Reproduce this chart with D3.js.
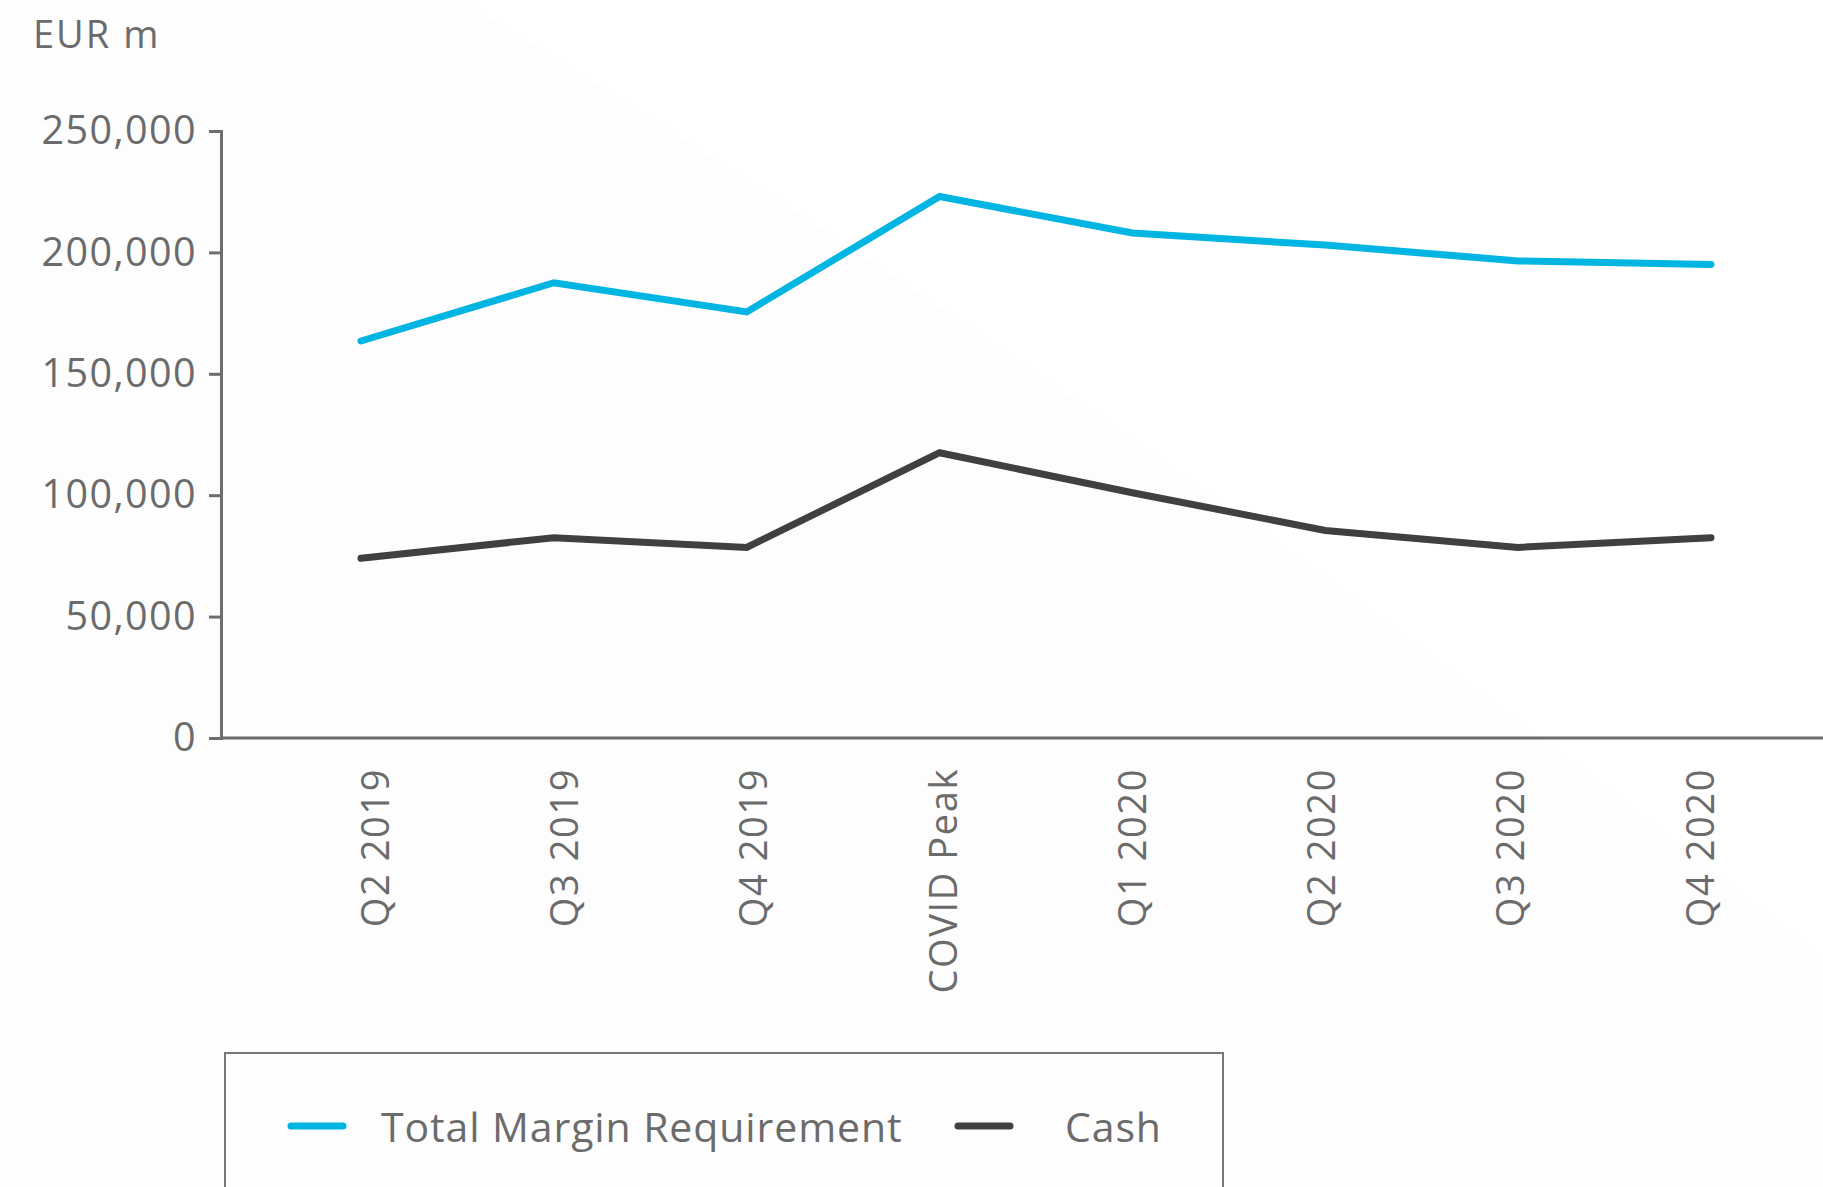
<!DOCTYPE html>
<html>
<head>
<meta charset="utf-8">
<script src="https://cdn.jsdelivr.net/npm/d3@7"></script>
<style>
  body { margin: 0; background: #fff; }
  svg { display: block; font-family: "Open Sans", sans-serif; }
</style>
</head>
<body>
<div id="chart"></div>
<script>
// data (EUR m)
const categories = ["Q2 2019", "Q3 2019", "Q4 2019", "COVID Peak", "Q1 2020", "Q2 2020", "Q3 2020", "Q4 2020"]
const totalMargin = [163500, 187500, 175500, 223000, 208000, 203000, 196500, 195000]
const cash = [74000, 82500, 78500, 117500, 101000, 85500, 78500, 82500]
const yTicks = [0, 50000, 100000, 150000, 200000, 250000]
const seriesNames = ["Total Margin Requirement", "Cash"]
const seriesColors = ["#00b5e2", "#404040"]

const fullWidth = 1823, fullHeight = 1187
const margin = {top: 131, left: 221, bottom: 449}
const textColor = "#6b6b6b", axisColor = "#6d6d6d"

const svg = d3.select("#chart").append("svg")
    .attr("width", fullWidth)
    .attr("height", fullHeight)

// very faint background shape
svg.append("path")
    .attr("d", "M460,0 Q1150,420 1823,960 L1823,1187 L0,1187 L0,0 Z")
    .attr("fill", "#fdfdfd")

// scales
const yScale = d3.scaleLinear()
    .domain([0, 250000])
    .range([fullHeight - margin.bottom, margin.top])

const xScale = d3.scalePoint()
    .domain(categories)
    .range([361, 1711])

// label positions sit a little apart from the line points
const xLabelScale = d3.scalePoint()
    .domain(categories)
    .range([375, 1700])

// y axis
const yAxis = d3.axisLeft(yScale)
    .tickValues(yTicks)
    .tickSize(12)
    .tickPadding(12)
    .tickFormat(d3.format(","))

const yG = svg.append("g")
    .attr("transform", `translate(${margin.left},0)`)
    .call(yAxis)
yG.select(".domain").attr("stroke", axisColor).attr("stroke-width", 3)
yG.selectAll(".tick line").attr("stroke", axisColor).attr("stroke-width", 3)
yG.selectAll(".tick text")
    .attr("fill", textColor)
    .attr("font-size", 39.5)
    .attr("letter-spacing", 1.4)
    .attr("font-family", "Open Sans")

// x axis: baseline across the whole width, labels rotated
svg.append("line")
    .attr("x1", margin.left).attr("x2", fullWidth)
    .attr("y1", yScale(0)).attr("y2", yScale(0))
    .attr("stroke", axisColor)
    .attr("stroke-width", 3)

svg.append("g").selectAll("text")
    .data(categories)
    .join("text")
    .attr("transform", d => `translate(${xLabelScale(d)},${yScale(0) + 30}) rotate(-90)`)
    .attr("text-anchor", "end")
    .attr("dy", "0.36em")
    .attr("fill", textColor)
    .attr("font-size", 38)
    .attr("letter-spacing", 1.6)
    .text(d => d)

// unit label
svg.append("text")
    .attr("x", 33).attr("y", 48)
    .attr("fill", textColor)
    .attr("font-size", 38)
    .attr("letter-spacing", 2)
    .text("EUR m")

// lines
const line = d3.line()
    .x((d, i) => xScale(categories[i]))
    .y(d => yScale(d))

svg.selectAll(".series")
    .data([totalMargin, cash])
    .join("path")
    .attr("class", "series")
    .attr("d", d => line(d))
    .attr("fill", "none")
    .attr("stroke", (d, i) => seriesColors[i])
    .attr("stroke-width", 7)
    .attr("stroke-linecap", "round")
    .attr("stroke-linejoin", "miter")

// legend
const legend = svg.append("g")
legend.append("rect")
    .attr("x", 225).attr("y", 1053)
    .attr("width", 998).attr("height", 200)
    .attr("fill", "none")
    .attr("stroke", "#777")
    .attr("stroke-width", 2)

const legendX = [291, 958]
const legendTextX = [381, 1065]
seriesNames.forEach((name, i) => {
  legend.append("line")
      .attr("x1", legendX[i]).attr("x2", legendX[i] + 52)
      .attr("y1", 1126).attr("y2", 1126)
      .attr("stroke", seriesColors[i])
      .attr("stroke-width", 7)
      .attr("stroke-linecap", "round")
  legend.append("text")
      .attr("x", legendTextX[i]).attr("y", 1142)
      .attr("fill", textColor)
      .attr("font-size", 41)
      .attr("letter-spacing", 0.9)
      .text(name)
})
</script>
</body>
</html>
